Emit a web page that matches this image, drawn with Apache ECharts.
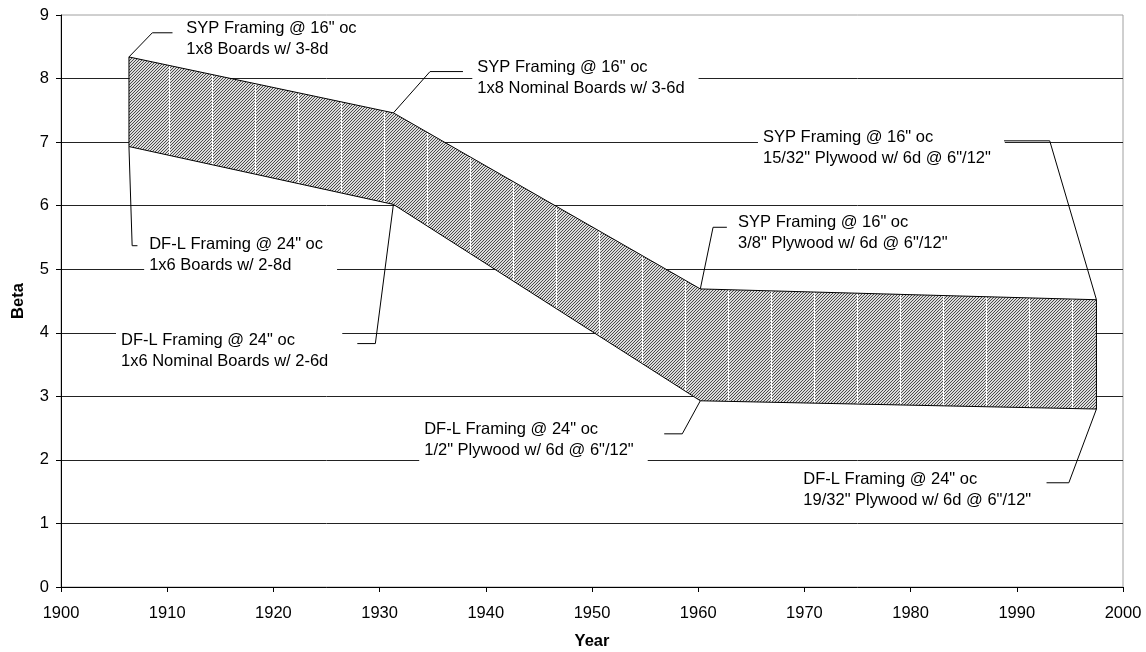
<!DOCTYPE html>
<html>
<head>
<meta charset="utf-8">
<script src="https://cdn.jsdelivr.net/npm/echarts@6/dist/echarts.min.js"></script>
<style>
  html, body { margin: 0; padding: 0; background: #fff; }
  #chart { width: 1146px; height: 652px; }
</style>
</head>
<body>
<div id="chart"></div>
<script>
// band corners
const years = [1906.4, 1931.3, 1960.2, 1997.5];
const upperBeta = [8.34, 7.46, 4.69, 4.52];
const lowerBeta = [6.93, 6.02, 2.93, 2.80];

const xTicks = { min: 1900, max: 2000, step: 10 };
const yTicks = { min: 0, max: 9, step: 1 };

// callout texts, which band corner they point at
const calloutText = [
  ['SYP Framing @ 16" oc', '1x8 Boards w/ 3-8d'],
  ['SYP Framing @ 16" oc', '1x8 Nominal Boards w/ 3-6d'],
  ['SYP Framing @ 16" oc', '15/32" Plywood w/ 6d @ 6"/12"'],
  ['SYP Framing @ 16" oc', '3/8" Plywood w/ 6d @ 6"/12"'],
  ['DF-L Framing @ 24" oc', '1x6 Boards w/ 2-8d'],
  ['DF-L Framing @ 24" oc', '1x6 Nominal Boards w/ 2-6d'],
  ['DF-L Framing @ 24" oc', '1/2" Plywood w/ 6d @ 6"/12"'],
  ['DF-L Framing @ 24" oc', '19/32" Plywood w/ 6d @ 6"/12"']
];
const calloutAnchor = [['upper', 0], ['upper', 1], ['upper', 3], ['upper', 2],
                       ['lower', 0], ['lower', 1], ['lower', 2], ['lower', 3]];

// callout layout in axis units (leader elbow, leader end, text left / first line middle)
const calloutLayout = [
  { elbow: [1908.6, 8.72], end: [1910.5, 8.72], at: [1911.8, 8.79] },
  { elbow: [1934.75, 8.11], end: [1937.85, 8.11], at: [1939.2, 8.17] },
  { elbow: [1993.1, 7.02], end: [1988.8, 7.02], at: [1966.1, 7.08] },
  { elbow: [1961.4, 5.66], end: [1962.7, 5.66], at: [1963.75, 5.73] },
  { elbow: [1906.7, 5.37], end: [1907.2, 5.37], at: [1908.3, 5.39] },
  { elbow: [1929.6, 3.83], end: [1927.9, 3.83], at: [1905.65, 3.88] },
  { elbow: [1958.5, 2.41], end: [1956.8, 2.41], at: [1934.2, 2.48] },
  { elbow: [1994.9, 1.64], end: [1992.8, 1.64], at: [1969.9, 1.70] }
];

const FONT = 'Arial, "Liberation Sans", sans-serif';
const FS = 16.5;

// fine hatch tile, with the pale seams every few years like the original fill
function hatchTile() {
  const w = 129, h = 3;
  const c = document.createElement('canvas');
  c.width = w; c.height = h;
  const ctx = c.getContext('2d');
  const img = ctx.createImageData(w, h);
  for (let y = 0; y < h; y++) {
    for (let x = 0; x < w; x++) {
      let v = ((x + y) % 3 === 0) ? 75 : 220;
      if (x === 40 || x === 83 || x === 126) v = 255;
      const i = (y * w + x) * 4;
      img.data[i] = img.data[i + 1] = img.data[i + 2] = v;
      img.data[i + 3] = 255;
    }
  }
  ctx.putImageData(img, 0, 0);
  return c;
}
const hatch = hatchTile();

function bandValue(side, i) {
  return [years[i], side === 'upper' ? upperBeta[i] : lowerBeta[i]];
}

const chart = echarts.init(document.getElementById('chart'), null, { renderer: 'canvas' });

const option = {
  animation: false,
  backgroundColor: '#fff',
  textStyle: { fontFamily: FONT },
  grid: {
    left: 61, right: 23, top: 15, bottom: 65,
    outerBoundsMode: 'none', containLabel: false,
    show: true, borderColor: '#a0a0a0', borderWidth: 1, backgroundColor: '#fff'
  },
  xAxis: {
    type: 'value',
    min: xTicks.min, max: xTicks.max, interval: xTicks.step,
    name: 'Year', nameLocation: 'middle', nameGap: 46,
    nameTextStyle: { fontFamily: FONT, fontSize: FS, fontWeight: 'bold', color: '#000' },
    axisLine: { show: true, lineStyle: { color: '#000', width: 1 } },
    axisTick: { show: true, length: 5, lineStyle: { color: '#000' } },
    axisLabel: { fontFamily: FONT, fontSize: FS, color: '#000', margin: 18, formatter: v => String(v) },
    splitLine: { show: false }
  },
  yAxis: {
    type: 'value',
    min: yTicks.min, max: yTicks.max, interval: yTicks.step,
    name: 'Beta', nameLocation: 'middle', nameGap: 34,
    nameTextStyle: { fontFamily: FONT, fontSize: FS, fontWeight: 'bold', color: '#000' },
    axisLine: { show: true, lineStyle: { color: '#000', width: 1 } },
    axisTick: { show: true, length: 5, lineStyle: { color: '#000' } },
    axisLabel: { fontFamily: FONT, fontSize: FS, color: '#000', margin: 12 },
    splitLine: { show: true, showMinLine: false, showMaxLine: false, lineStyle: { color: '#222', width: 1 } }
  },
  series: [
    {
      type: 'custom',
      name: 'band',
      coordinateSystem: 'cartesian2d',
      data: [[years[0], upperBeta[0]]],
      z: 3,
      silent: true,
      renderItem: function (params, api) {
        const pts = [];
        for (let i = 0; i < years.length; i++) pts.push(api.coord([years[i], upperBeta[i]]));
        for (let i = years.length - 1; i >= 0; i--) pts.push(api.coord([years[i], lowerBeta[i]]));
        return {
          type: 'polygon',
          shape: { points: pts },
          style: { fill: { image: hatch, repeat: 'repeat' }, stroke: '#000', lineWidth: 1 }
        };
      }
    },
    {
      type: 'custom',
      name: 'callouts',
      coordinateSystem: 'cartesian2d',
      data: calloutText.map((t, i) => [calloutLayout[i].at[0], calloutLayout[i].at[1]]),
      z: 5,
      silent: true,
      renderItem: function (params, api) {
        const i = params.dataIndex;
        const lay = calloutLayout[i];
        const a = api.coord(bandValue(calloutAnchor[i][0], calloutAnchor[i][1]));
        const e = api.coord(lay.elbow);
        const f = api.coord(lay.end);
        const t = api.coord(lay.at);
        const lh = 21;
        const pad = [0, 14, 2, 5];
        return {
          type: 'group',
          children: [
            {
              type: 'text',
              style: {
                text: calloutText[i].join('\n'),
                x: t[0] - pad[3], y: t[1] - lh / 2 - pad[0],
                font: FS + 'px ' + FONT, fill: '#000',
                lineHeight: lh, align: 'left', verticalAlign: 'top',
                backgroundColor: '#fff', padding: pad
              }
            },
            {
              type: 'polyline',
              shape: { points: [a, e, f] },
              style: { stroke: '#000', lineWidth: 1, fill: null }
            }
          ]
        };
      }
    }
  ]
};

chart.setOption(option);
</script>
</body>
</html>
